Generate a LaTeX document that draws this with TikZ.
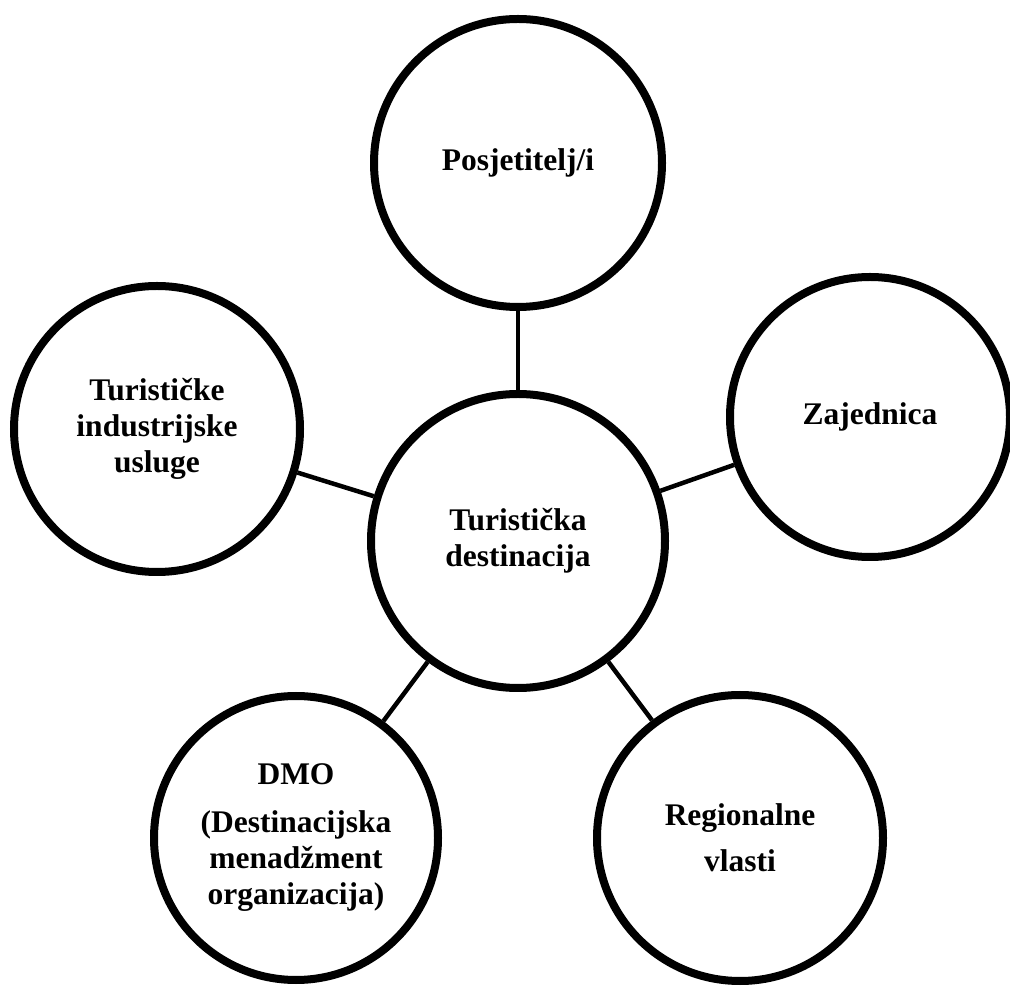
\documentclass[tikz,border=0pt]{standalone}
\usepackage{fontspec}
\setmainfont{Liberation Serif}
\begin{document}
\begin{tikzpicture}[x=1pt,y=1pt,
  bubble/.style={circle,draw=black,line width=8pt,fill=white,inner sep=0pt,
    align=center,font=\bfseries\fontsize{31.5}{36}\selectfont},
  link/.style={draw=black,line width=4.5pt}]
\useasboundingbox (0,0) rectangle (1010,986);
\node[bubble,minimum size=294pt] (c) at (518,445) {Turistička\\destinacija};
\node[bubble,minimum size=288pt] (t) at (518,823) {Posjetitelj/i};
\node[bubble,minimum size=286pt] (l) at (157,557) {Turističke\\industrijske\\usluge};
\node[bubble,minimum size=280pt] (r) at (870,569) {Zajednica};
\node[bubble,minimum size=284pt] (d) at (296,148) {DMO\\[12pt](Destinacijska\\menadžment\\organizacija)};
\node[bubble,minimum size=286pt] (g) at (740,148) {Regionalne\\[10pt]vlasti};
\draw[link] (c) -- (t);
\draw[link] (c) -- (l);
\draw[link] (c) -- (r);
\draw[link] (c) -- (d);
\draw[link] (c) -- (g);
\end{tikzpicture}
\end{document}
